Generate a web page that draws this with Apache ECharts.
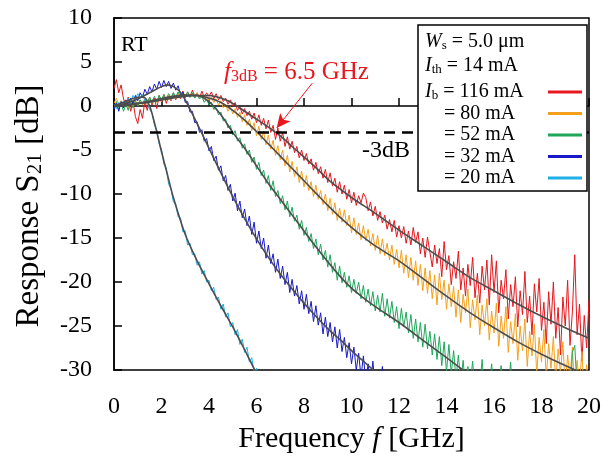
<!DOCTYPE html>
<html>
<head>
<meta charset="utf-8">
<script src="https://cdn.jsdelivr.net/npm/echarts@6/dist/echarts.min.js"></script>
<style>
  html, body { margin: 0; padding: 0; background: #fff; }
  #chart { width: 604px; height: 461px; }
</style>
</head>
<body>
<div id="chart"></div>
<script>
// frequency sweep of the measured S21 traces [GHz]
const freq = [
  0.0,0.1,0.2,0.3,0.4,0.5,0.6,0.7,0.8,0.9,
  1.0,1.1,1.2,1.3,1.4,1.5,1.6,1.7,1.8,1.9,
  2.0,2.1,2.2,2.3,2.4,2.5,2.6,2.7,2.8,2.9,
  3.0,3.1,3.2,3.3,3.4,3.5,3.6,3.7,3.8,3.9,
  4.0,4.1,4.2,4.3,4.4,4.5,4.6,4.7,4.8,4.9,
  5.0,5.1,5.2,5.3,5.4,5.5,5.6,5.7,5.8,5.9,
  6.0,6.1,6.2,6.3,6.4,6.5,6.6,6.7,6.8,6.9,
  7.0,7.1,7.2,7.3,7.4,7.5,7.6,7.7,7.8,7.9,
  8.0,8.1,8.2,8.3,8.4,8.5,8.6,8.7,8.8,8.9,
  9.0,9.1,9.2,9.3,9.4,9.5,9.6,9.7,9.8,9.9,
  10.0,10.1,10.2,10.3,10.4,10.5,10.6,10.7,10.8,10.9,
  11.0,11.1,11.2,11.3,11.4,11.5,11.6,11.7,11.8,11.9,
  12.0,12.1,12.2,12.3,12.4,12.5,12.6,12.7,12.8,12.9,
  13.0,13.1,13.2,13.3,13.4,13.5,13.6,13.7,13.8,13.9,
  14.0,14.1,14.2,14.3,14.4,14.5,14.6,14.7,14.8,14.9,
  15.0,15.1,15.2,15.3,15.4,15.5,15.6,15.7,15.8,15.9,
  16.0,16.1,16.2,16.3,16.4,16.5,16.6,16.7,16.8,16.9,
  17.0,17.1,17.2,17.3,17.4,17.5,17.6,17.7,17.8,17.9,
  18.0,18.1,18.2,18.3,18.4,18.5,18.6,18.7,18.8,18.9,
  19.0,19.1,19.2,19.3,19.4,19.5,19.6,19.7,19.8,19.9,
  20.0
]

// measured response [dB], one value per freq point
const s21_116 = [
  2.0,3.0,1.5,2.4,0.8,0.2,1.0,-0.6,0.5,-1.2,
  -2.0,-0.4,-1.4,0.6,-0.5,1.0,0.1,0.9,-0.3,1.2,
  0.4,1.3,0.3,1.1,0.6,1.5,0.7,1.4,0.8,1.7,
  0.9,1.6,1.0,1.8,1.1,1.5,0.9,1.7,1.0,1.5,
  1.1,1.6,0.8,1.4,0.7,1.2,0.5,0.9,0.2,0.7,
  0.0,0.4,-0.5,-0.1,-0.9,-0.3,-1.1,-0.6,-1.5,-0.8,
  -1.9,-1.0,-2.2,-1.4,-2.6,-1.6,-3.0,-2.2,-3.8,-2.5,
  -4.0,-3.0,-4.6,-3.5,-4.9,-4.0,-5.3,-4.6,-5.9,-5.0,
  -6.2,-5.4,-6.6,-6.0,-7.3,-6.4,-7.7,-6.9,-8.2,-7.2,
  -8.7,-7.6,-9.1,-8.2,-9.8,-8.6,-10.0,-9.0,-10.6,-9.5,
  -11.0,-9.8,-11.3,-10.2,-11.0,-9.9,-10.4,-11.9,-10.9,-12.5,
  -11.4,-13.0,-12.0,-13.3,-12.4,-14.0,-12.9,-14.3,-13.0,-14.9,
  -13.6,-15.0,-13.7,-15.6,-14.2,-15.8,-13.8,-15.5,-14.3,-16.8,
  -15.0,-17.2,-14.9,-16.6,-18.3,-15.8,-17.9,-16.2,-19.4,-15.4,
  -18.6,-17.0,-20.3,-17.7,-19.6,-16.5,-20.9,-18.4,-21.6,-18.0,
  -20.4,-17.2,-21.8,-19.0,-22.4,-18.2,-20.9,-17.5,-22.6,-16.9,
  -21.2,-17.6,-23.5,-19.8,-21.9,-18.6,-24.2,-20.3,-22.8,-19.4,
  -25.1,-21.0,-23.7,-18.8,-24.6,-21.6,-26.0,-20.2,-23.4,-19.6,
  -25.5,-22.3,-27.0,-21.1,-24.8,-20.0,-26.4,-22.9,-28.3,-21.7,
  -25.0,-19.8,-27.2,-23.4,-16.9,-26.0,-22.5,-29.0,-23.8,-27.5,
  -22.0
]
const s21_80 = [
  0.3,0.9,0.1,0.6,-0.2,0.4,-0.3,0.5,-0.1,0.6,
  0.0,0.7,0.1,0.8,0.2,0.9,0.3,0.8,0.4,1.0,
  0.5,1.1,0.6,1.2,0.7,1.3,0.8,1.4,0.9,1.5,
  1.0,1.5,1.0,1.4,0.9,1.5,0.9,1.3,0.7,1.2,
  0.6,1.0,0.4,0.8,0.1,0.6,-0.2,0.2,-0.6,-0.1,
  -0.9,-0.3,-1.3,-0.7,-1.8,-1.0,-2.2,-1.5,-2.8,-1.9,
  -3.4,-2.3,-3.8,-2.9,-4.4,-3.3,-4.9,-3.9,-5.6,-4.5,
  -6.1,-5.0,-6.8,-5.6,-7.5,-6.3,-8.0,-6.9,-8.7,-7.4,
  -9.2,-7.9,-9.6,-8.6,-10.3,-9.0,-10.6,-9.6,-11.2,-10.0,
  -11.9,-10.5,-12.3,-11.0,-13.0,-11.6,-13.2,-11.8,-13.6,-12.4,
  -14.4,-12.7,-14.6,-13.3,-15.2,-13.6,-15.3,-14.0,-15.9,-14.5,
  -16.4,-14.7,-16.8,-15.1,-17.0,-15.6,-17.5,-15.8,-18.0,-16.3,
  -18.4,-16.4,-19.0,-16.9,-19.5,-17.2,-19.8,-17.6,-20.4,-18.0,
  -21.0,-18.4,-21.3,-18.7,-21.9,-19.2,-22.6,-19.0,-22.0,-19.8,
  -23.1,-20.2,-22.8,-20.5,-24.0,-20.9,-24.6,-21.4,-23.5,-20.8,
  -25.2,-22.0,-24.3,-21.5,-26.0,-22.6,-25.0,-21.9,-26.6,-23.3,
  -25.8,-22.4,-27.3,-23.9,-26.4,-22.8,-28.0,-24.5,-27.0,-23.6,
  -28.9,-25.0,-27.8,-24.2,-29.6,-25.6,-28.4,-24.8,-30.5,-26.3,
  -29.1,-25.4,-31.0,-27.0,-29.8,-26.2,-31.5,-27.6,-30.4,-26.8,
  -32.0,-28.3,-31.0,-27.4,-32.5,-28.9,-31.6,-27.9,-33.0,-29.4,
  -31.5
]
const s21_52 = [
  -0.3,0.5,-0.4,0.3,-0.6,0.2,-0.5,0.4,-0.2,0.6,
  0.0,0.7,0.2,0.8,0.3,1.0,0.4,1.1,0.5,1.2,
  0.7,1.3,0.8,1.4,0.9,1.5,1.0,1.6,1.0,1.5,
  1.1,1.6,1.0,1.5,0.9,1.3,0.8,1.1,0.4,0.8,
  0.1,0.4,-0.4,-0.2,-1.0,-0.7,-1.7,-1.5,-2.5,-2.2,
  -3.3,-2.8,-4.0,-3.6,-4.8,-4.3,-5.5,-5.0,-6.4,-5.8,
  -7.2,-6.4,-7.9,-7.3,-8.8,-7.9,-9.6,-8.5,-10.3,-9.6,
  -11.1,-10.2,-11.8,-10.8,-12.6,-11.5,-13.1,-12.4,-14.0,-13.0,
  -14.7,-13.8,-15.4,-14.5,-16.2,-15.1,-16.9,-15.7,-17.5,-16.4,
  -18.3,-16.9,-18.9,-17.8,-19.8,-18.2,-20.1,-18.9,-20.6,-19.3,
  -21.2,-19.7,-21.3,-20.0,-21.9,-20.4,-22.3,-20.8,-22.7,-21.1,
  -23.3,-21.5,-23.4,-21.3,-23.9,-21.9,-24.1,-22.2,-24.6,-22.8,
  -25.3,-23.0,-25.1,-23.4,-25.8,-23.7,-26.4,-24.2,-26.8,-24.6,
  -27.4,-24.8,-27.6,-25.6,-28.3,-25.9,-28.8,-26.2,-29.5,-26.8,
  -30.2,-27.1,-30.4,-27.8,-31.0,-28.3,-31.5,-28.9,-32.0,-29.6,
  -31.6,-29.0,-32.3,-30.4,-31.8,-28.8,-32.5,-30.2,-31.9,-29.3,
  -32.6,-30.6,-32.0,-29.5,-32.8,-30.9,-32.2,-29.1,-33.0,-31.0,
  -32.4,-30.5,-33.2,-31.2,-32.6,-30.8,-33.4,-31.4,-32.8,-31.0,
  -33.5,-31.5,-33.0,-30.6,-33.6,-31.7,-33.1,-31.2,-33.8,-31.9,
  -33.2,-30.8,-33.9,-28.0,-27.2,-32.0,-33.5,-31.6,-34.0,-30.4,
  -33.0
]
const s21_32 = [
  -0.4,0.3,-0.6,0.5,-0.2,0.7,0.1,0.9,0.3,1.2,
  0.6,1.5,1.0,1.9,1.3,2.2,1.6,2.5,1.9,2.8,
  2.1,2.9,2.2,2.8,2.0,2.6,1.8,2.3,1.3,1.6,
  0.4,0.5,-0.7,-0.6,-1.9,-1.8,-3.0,-2.7,-4.0,-3.7,
  -5.1,-4.6,-6.2,-5.7,-7.3,-6.8,-8.5,-7.9,-9.6,-8.9,
  -10.8,-9.9,-11.9,-10.8,-12.7,-11.7,-13.6,-12.5,-14.6,-13.2,
  -15.6,-14.2,-16.2,-15.0,-17.3,-15.8,-17.9,-16.8,-18.9,-17.4,
  -19.6,-18.2,-20.3,-18.9,-21.2,-19.7,-21.6,-20.4,-22.5,-21.0,
  -23.1,-21.4,-23.6,-22.2,-24.5,-22.7,-24.9,-23.5,-25.9,-24.0,
  -26.2,-24.6,-26.8,-25.1,-27.5,-25.4,-27.9,-26.3,-28.6,-26.9,
  -29.3,-27.4,-30.0,-28.1,-30.8,-28.4,-31.2,-29.3,-31.6,-29.0,
  -32.0,-30.2,-31.8,-29.6,-32.4,-30.5
]
const s21_20 = [
  0.2,-0.3,0.4,0.0,0.6,0.3,0.9,0.5,1.2,0.8,
  1.4,0.9,1.3,0.6,0.5,-0.4,-0.8,-2.1,-2.7,-4.3,
  -4.9,-6.6,-7.0,-8.9,-9.4,-10.9,-11.2,-12.6,-12.7,-14.3,
  -14.2,-15.8,-15.6,-16.9,-16.8,-18.1,-17.7,-19.1,-18.7,-20.0,
  -19.8,-21.0,-20.6,-22.0,-21.7,-23.1,-22.5,-24.0,-23.5,-25.1,
  -24.6,-26.0,-25.4,-27.1,-26.5,-28.0,-27.4,-29.1,-28.6,-30.3,
  -29.8,-31.2,-30.6
]

// fitted response curves, [GHz, dB]
const fit116 = [[0,0],[0.5,0.1],[1,0.25],[1.5,0.45],[2,0.7],[2.5,0.9],[3,1.1],[3.5,1.2],[4,1.2],[4.5,0.9],[5,0.3],[5.5,-0.6],[6,-1.5],[6.5,-2.4],[7,-3.4],[7.5,-4.6],[8,-5.8],[8.5,-7.0],[9,-8.3],[9.5,-9.4],[10,-10.4],[10.5,-11.3],[11,-12.2],[12,-14.1],[13,-15.9],[14,-17.7],[15,-19.5],[16,-21.0],[17,-22.5],[18,-23.9],[19,-25.2],[20,-26.4]]
const fit80 = [[0,0],[0.5,0.1],[1,0.3],[1.5,0.5],[2,0.75],[2.5,1.0],[3,1.2],[3.5,1.2],[4,0.9],[4.5,0.4],[5,-0.5],[5.5,-1.6],[6,-2.9],[6.5,-4.3],[7,-5.7],[7.5,-7.1],[8,-8.5],[8.5,-9.9],[9,-11.3],[9.5,-12.6],[10,-13.8],[10.5,-14.9],[11,-15.9],[12,-17.6],[13,-19.6],[14,-21.6],[15,-23.5],[16,-25.2],[17,-26.8],[18,-28.2],[19,-29.5],[20,-30.7]]
const fit52 = [[0,0],[0.5,0.1],[1,0.3],[1.5,0.55],[2,0.85],[2.5,1.1],[3,1.25],[3.5,1.2],[4,0.5],[4.5,-1.0],[5,-3.0],[5.5,-4.8],[6,-6.8],[6.5,-8.8],[7,-10.6],[7.5,-12.4],[8,-14.2],[8.5,-16.0],[9,-17.7],[9.5,-19.3],[10,-20.7],[10.5,-21.8],[11,-22.8],[12,-24.6],[13,-26.6],[14,-28.6],[15,-30.6]]
const fit32 = [[0,0],[0.5,0.3],[1,0.8],[1.5,1.5],[2,2.2],[2.25,2.4],[2.5,2.2],[2.75,1.7],[3,0.7],[3.5,-2.0],[4,-4.8],[4.5,-7.6],[5,-10.3],[5.5,-12.8],[6,-15.1],[6.5,-17.2],[7,-19.1],[7.5,-20.8],[8,-22.4],[8.5,-23.9],[9,-25.3],[9.5,-26.5],[10,-27.8],[10.5,-29.0],[11,-30.2]]
const fit20 = [[0,0],[0.5,0.5],[1,1.0],[1.25,1.0],[1.5,0.0],[1.75,-2.4],[2,-5.2],[2.25,-7.8],[2.5,-10.4],[3,-14.6],[3.5,-17.6],[4,-20.2],[4.5,-22.7],[5,-25.1],[5.5,-27.7],[6,-30.4]]

const currents = ['116 mA', '80 mA', '52 mA', '32 mA', '20 mA']
const colors = ['#e8161d', '#f5a01c', '#1fa65a', '#1818c8', '#1fb0e8']
const measured = [s21_116, s21_80, s21_52, s21_32, s21_20]
const fits = [fit116, fit80, fit52, fit32, fit20]

const FONT = "'Liberation Serif', 'Times New Roman', serif"

function pairs(vals) {
  return vals.map((v, i) => [freq[i], v])
}

const chart = echarts.init(document.getElementById('chart'))

const series = []
measured.forEach((vals, k) => {
  series.push({
    name: currents[k],
    type: 'line',
    data: pairs(vals),
    symbol: 'none',
    color: colors[k],
    lineStyle: { color: colors[k], width: 1 },
    z: 2
  })
})
fits.forEach((pts, k) => {
  series.push({
    name: 'fit ' + currents[k],
    type: 'line',
    data: pts,
    symbol: 'none',
    smooth: 0.3,
    lineStyle: { color: '#4d4d4d', width: 1.6 },
    z: 3
  })
})
// -3 dB reference line and the f3dB arrow
series[0].markLine = {
  silent: true,
  symbol: 'none',
  z: 5,
  label: { show: false },
  data: [
    { yAxis: -3, lineStyle: { color: '#000', width: 2.5, type: [11, 7] } },
    [
      { coord: [8.35, 2.6], symbol: 'none', lineStyle: { color: '#e8161d', width: 1, type: 'solid' } },
      { coord: [6.85, -2.5], symbol: 'arrow', symbolSize: [10, 14] }
    ]
  ]
}

const subStyle = { fontSize: 13, fontFamily: FONT, verticalAlign: 'bottom', lineHeight: 20, align: 'left' }

chart.setOption({
  animation: false,
  backgroundColor: '#fff',
  grid: {
    left: 114, right: 14, top: 18, bottom: 91,
    show: true, borderColor: '#000', borderWidth: 1.5
  },
  xAxis: {
    type: 'value',
    min: 0, max: 20, interval: 2,
    name: '{t|Frequency }{it|f}{t| [GHz]}',
    nameLocation: 'middle',
    nameGap: 50,
    nameTextStyle: {
      color: '#000', fontFamily: FONT, fontSize: 30,
      rich: {
        t: { fontFamily: FONT, fontSize: 30, color: '#000' },
        it: { fontFamily: FONT, fontSize: 30, fontStyle: 'italic', color: '#000' }
      }
    },
    axisLine: { lineStyle: { color: '#000', width: 1.5 } },
    axisTick: { inside: true, length: 8, lineStyle: { color: '#000', width: 1.5 } },
    axisLabel: { color: '#000', fontFamily: FONT, fontSize: 24, margin: 25 },
    splitLine: { show: false }
  },
  yAxis: {
    type: 'value',
    min: -30, max: 10, interval: 5,
    name: '{t|Response S}{sub|21}{t| [dB]}',
    nameLocation: 'middle',
    nameGap: 68,
    nameTextStyle: {
      color: '#000', fontFamily: FONT, fontSize: 33,
      padding: [0, 24, 0, 0],
      rich: {
        t: { fontFamily: FONT, fontSize: 33, color: '#000', lineHeight: 34 },
        sub: { fontFamily: FONT, fontSize: 21, color: '#000', verticalAlign: 'bottom', lineHeight: 34 }
      }
    },
    axisLine: { lineStyle: { color: '#000', width: 1.5 } },
    axisTick: { inside: true, length: 8, lineStyle: { color: '#000', width: 1.5 } },
    axisLabel: { color: '#000', fontFamily: FONT, fontSize: 24, margin: 22 },
    splitLine: { show: false }
  },
  legend: {
    data: currents,
    z: 10,
    orient: 'vertical',
    left: 418,
    top: 25,
    padding: [57, 5, 3, 7],
    itemGap: 1.5,
    itemWidth: 34,
    itemHeight: 3,
    icon: 'rect',
    align: 'right',
    backgroundColor: '#fff',
    borderColor: '#000',
    borderWidth: 1.5,
    borderRadius: 0,
    formatter: function (name) {
      if (name === currents[0]) return '{it|I}{sub|b}{t| = ' + name + '}'
      return '{pad|}{t|= ' + name + '}'
    },
    textStyle: {
      color: '#000', fontFamily: FONT, fontSize: 20, width: 118, lineHeight: 20,
      rich: {
        t: { fontFamily: FONT, fontSize: 20, color: '#000', lineHeight: 20, align: 'left' },
        it: { fontFamily: FONT, fontSize: 20, fontStyle: 'italic', color: '#000', lineHeight: 20, align: 'left' },
        sub: subStyle,
        pad: { width: 19, align: 'left' }
      }
    }
  },
  graphic: [
    {
      type: 'text', x: 121, y: 45, z: 10,
      style: { text: 'RT', font: '22px ' + FONT, fill: '#000', textVerticalAlign: 'middle' }
    },
    {
      type: 'text', x: 425, y: 42, z: 20,
      style: {
        text: '{it|W}{sub|s}{t| = 5.0 μm}', textVerticalAlign: 'middle',
        rich: {
          t: { fontFamily: FONT, fontSize: 20, fill: '#000', lineHeight: 20 },
          it: { fontFamily: FONT, fontSize: 20, fontStyle: 'italic', fill: '#000', lineHeight: 20 },
          sub: subStyle
        }
      }
    },
    {
      type: 'text', x: 425, y: 66, z: 20,
      style: {
        text: '{it|I}{sub|th}{t| = 14 mA}', textVerticalAlign: 'middle',
        rich: {
          t: { fontFamily: FONT, fontSize: 20, fill: '#000', lineHeight: 20 },
          it: { fontFamily: FONT, fontSize: 20, fontStyle: 'italic', fill: '#000', lineHeight: 20 },
          sub: subStyle
        }
      }
    },
    {
      type: 'text', x: 362, y: 151, z: 10,
      style: { text: '-3dB', font: '24px ' + FONT, fill: '#000', textVerticalAlign: 'middle' }
    },
    {
      type: 'text', x: 224, y: 72, z: 10,
      style: {
        text: '{it|f}{sub|3dB}{t| = 6.5 GHz}', textVerticalAlign: 'middle',
        rich: {
          t: { fontFamily: FONT, fontSize: 25, fill: '#e8161d', lineHeight: 26 },
          it: { fontFamily: FONT, fontSize: 25, fontStyle: 'italic', fill: '#e8161d', lineHeight: 26 },
          sub: { fontFamily: FONT, fontSize: 16, fill: '#e8161d', verticalAlign: 'bottom', lineHeight: 26 }
        }
      }
    }
  ],
  series: series
})
</script>
</body>
</html>
